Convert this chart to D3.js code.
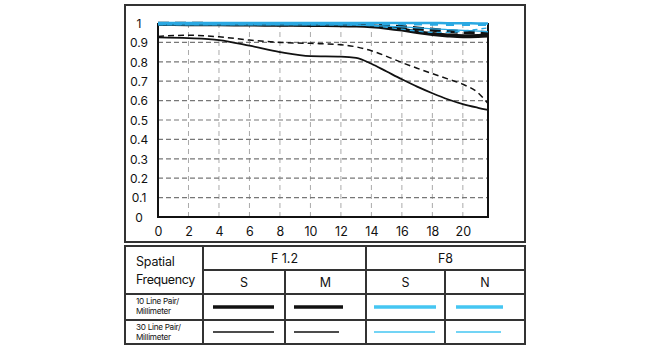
<!DOCTYPE html>
<html><head><meta charset="utf-8">
<script src="https://cdn.jsdelivr.net/npm/d3@7"></script>
<style>body{margin:0;background:#fff}svg{display:block}text{font-family:Inter,"Noto Sans",sans-serif;fill:#111}</style>
</head><body><svg id="c" width="650" height="350"></svg>
<script>
const xTicks = [0,2,4,6,8,10,12,14,16,18,20];
const yTicks = [0,0.1,0.2,0.3,0.4,0.5,0.6,0.7,0.8,0.9,1];
const yTickLabels = ["0","0.1","0.2","0.3","0.4","0.5","0.6","0.7","0.8","0.9","1"];
const freqs = [0,2,4,6,8,10,12,13,14,15,16,17,18,19,20,21,21.65];
const f12S10 = [0.995,0.994,0.993,0.992,0.991,0.99,0.989,0.987,0.983,0.976,0.966,0.953,0.943,0.936,0.932,0.933,0.935];
const f12M10 = [0.996,0.996,0.995,0.995,0.994,0.994,0.993,0.991,0.988,0.984,0.979,0.972,0.965,0.959,0.954,0.951,0.948];
const f12S30 = [0.926,0.922,0.912,0.883,0.85,0.829,0.827,0.82,0.79,0.75,0.71,0.672,0.638,0.607,0.582,0.563,0.552];
const f12M30 = [0.931,0.937,0.929,0.912,0.90,0.895,0.888,0.877,0.857,0.828,0.796,0.767,0.739,0.712,0.684,0.64,0.585];
const f8S10 = [1,1,1,1,1,1,1,1,1,1,1,1,1,0.999,0.999,0.998,0.998];
const f8M10 = [0.995,0.995,0.995,0.995,0.995,0.995,0.995,0.995,0.994,0.994,0.993,0.992,0.991,0.99,0.99,0.99,0.99];
const f8S30 = [0.99,0.99,0.99,0.99,0.99,0.99,0.99,0.989,0.987,0.984,0.98,0.975,0.97,0.966,0.962,0.958,0.955];
const f8M30 = [0.992,0.992,0.992,0.992,0.992,0.991,0.99,0.989,0.986,0.978,0.968,0.958,0.952,0.952,0.958,0.968,0.975];
const colHeads = ["F 1.2","F8"];
const subHeads = ["S","M","S","N"];
const rowHeads = [["10 Line Pair/","Millimeter"],["30 Line Pair/","Millimeter"]];

const svg = d3.select("#c");
const blue = "#2aa8e2", lblue = "#45c6f2";
const x = d3.scaleLinear().domain([0,21.65]).range([158,488]);
const y = d3.scaleLinear().domain([0,1]).range([217,23]);

svg.append("rect").attr("x",125).attr("y",5).attr("width",400).attr("height",237)
  .attr("fill","none").attr("stroke","#333").attr("stroke-width",2);

svg.append("g").selectAll("line").data(xTicks.filter(d=>d>0)).join("line")
  .attr("x1",d=>x(d)).attr("x2",d=>x(d)).attr("y1",y(0)).attr("y2",y(1))
  .attr("stroke","#aaa").attr("stroke-width",1).attr("stroke-dasharray","5,4");
svg.append("g").selectAll("line").data(yTicks.filter(d=>d>0&&d<1)).join("line")
  .attr("x1",x(0)).attr("x2",x(21.65)).attr("y1",d=>y(d)).attr("y2",d=>y(d))
  .attr("stroke","#777").attr("stroke-width",1.2).attr("stroke-dasharray","5,3");

const xAxis = d3.axisBottom(x).tickValues(xTicks).tickSize(0).tickPadding(10);
const gx = svg.append("g").attr("transform",`translate(0,${y(0)})`).call(xAxis);
gx.select(".domain").remove();
gx.selectAll("text").attr("font-size",12.5).attr("fill","#111").style("font-family","Inter");
const yAxis = d3.axisLeft(y).tickValues(yTicks).tickFormat((d,i)=>yTickLabels[i]).tickSize(0).tickPadding(0);
const gy = svg.append("g").attr("transform","translate(139,0)").call(yAxis);
gy.select(".domain").remove();
gy.selectAll("text").attr("x",0).attr("text-anchor","middle").attr("dy","0.35em").attr("font-size",12).attr("fill","#111").style("font-family","Inter");

svg.append("path").attr("d",`M${x(0)},${y(1)}V${y(0)}H${x(21.65)}V${y(1)}`)
  .attr("fill","none").attr("stroke","#111").attr("stroke-width",2);

const line = d3.line().x((d,i)=>x(freqs[i])).y(d=>y(d)).curve(d3.curveMonotoneX);
function draw(data,color,w,dash){
  svg.append("path").attr("d",line(data)).attr("fill","none").attr("stroke",color)
    .attr("stroke-width",w).attr("stroke-dasharray",dash||null);
}
draw(f12S30,"#111",1.8);
draw(f12M30,"#111",1.5,"6,4");
draw(f12S10,"#111",4);
draw(f12M10,"#111",4,"11,6");
draw(f8S30,blue,1.3);
draw(f8M30,blue,1.3,"5,4");
draw(f8M10,blue,2,"8,8");
draw(f8S10,blue,2.5);

const cols = [125,203,285,366,445,525];
const rows = [246,270,294,320,344];
const tb = svg.append("g").attr("stroke","#333").attr("stroke-width",2).attr("fill","none");
tb.append("rect").attr("x",125).attr("y",rows[0]).attr("width",400).attr("height",rows[4]-rows[0]);
tb.append("line").attr("x1",cols[1]).attr("x2",cols[5]).attr("y1",rows[1]).attr("y2",rows[1]);
[2,3].forEach(r=>tb.append("line").attr("x1",cols[0]).attr("x2",cols[5]).attr("y1",rows[r]).attr("y2",rows[r]));
tb.append("line").attr("x1",cols[1]).attr("x2",cols[1]).attr("y1",rows[0]).attr("y2",rows[4]);
tb.append("line").attr("x1",cols[3]).attr("x2",cols[3]).attr("y1",rows[0]).attr("y2",rows[4]);
[2,4].forEach(c=>tb.append("line").attr("x1",cols[c]).attr("x2",cols[c]).attr("y1",rows[1]).attr("y2",rows[4]));

svg.append("text").attr("x",136).attr("y",266).attr("font-size",12.5).attr("letter-spacing","-0.2").text("Spatial");
svg.append("text").attr("x",136).attr("y",284).attr("font-size",12.5).attr("letter-spacing","-0.4").text("Frequency");
colHeads.forEach((t,i)=>svg.append("text").attr("x",(cols[1+2*i]+cols[3+2*i])/2).attr("y",263)
  .attr("text-anchor","middle").attr("font-size",12.5).text(t));
subHeads.forEach((t,i)=>svg.append("text").attr("x",(cols[1+i]+cols[2+i])/2).attr("y",287)
  .attr("text-anchor","middle").attr("font-size",12.5).text(t));
rowHeads.forEach((r,i)=>{
  r.forEach((t,j)=>svg.append("text").attr("x",136).attr("y",rows[2+i]+10+j*10)
    .attr("font-size",8.2).attr("letter-spacing","-0.3").text(t));
});
const legX = [[213,274],[294,343],[374,436],[456,503]];
const legX2 = [[213,274],[294,339],[374,435],[456,501]];
const legCol = ["#111","#111",lblue,lblue];
legX.forEach((p,i)=>svg.append("line").attr("x1",p[0]).attr("x2",p[1]).attr("y1",307).attr("y2",307)
  .attr("stroke",legCol[i]).attr("stroke-width",3.5));
legX2.forEach((p,i)=>svg.append("line").attr("x1",p[0]).attr("x2",p[1]).attr("y1",332).attr("y2",332)
  .attr("stroke",legCol[i]).attr("stroke-width",1.6));
</script></body></html>
